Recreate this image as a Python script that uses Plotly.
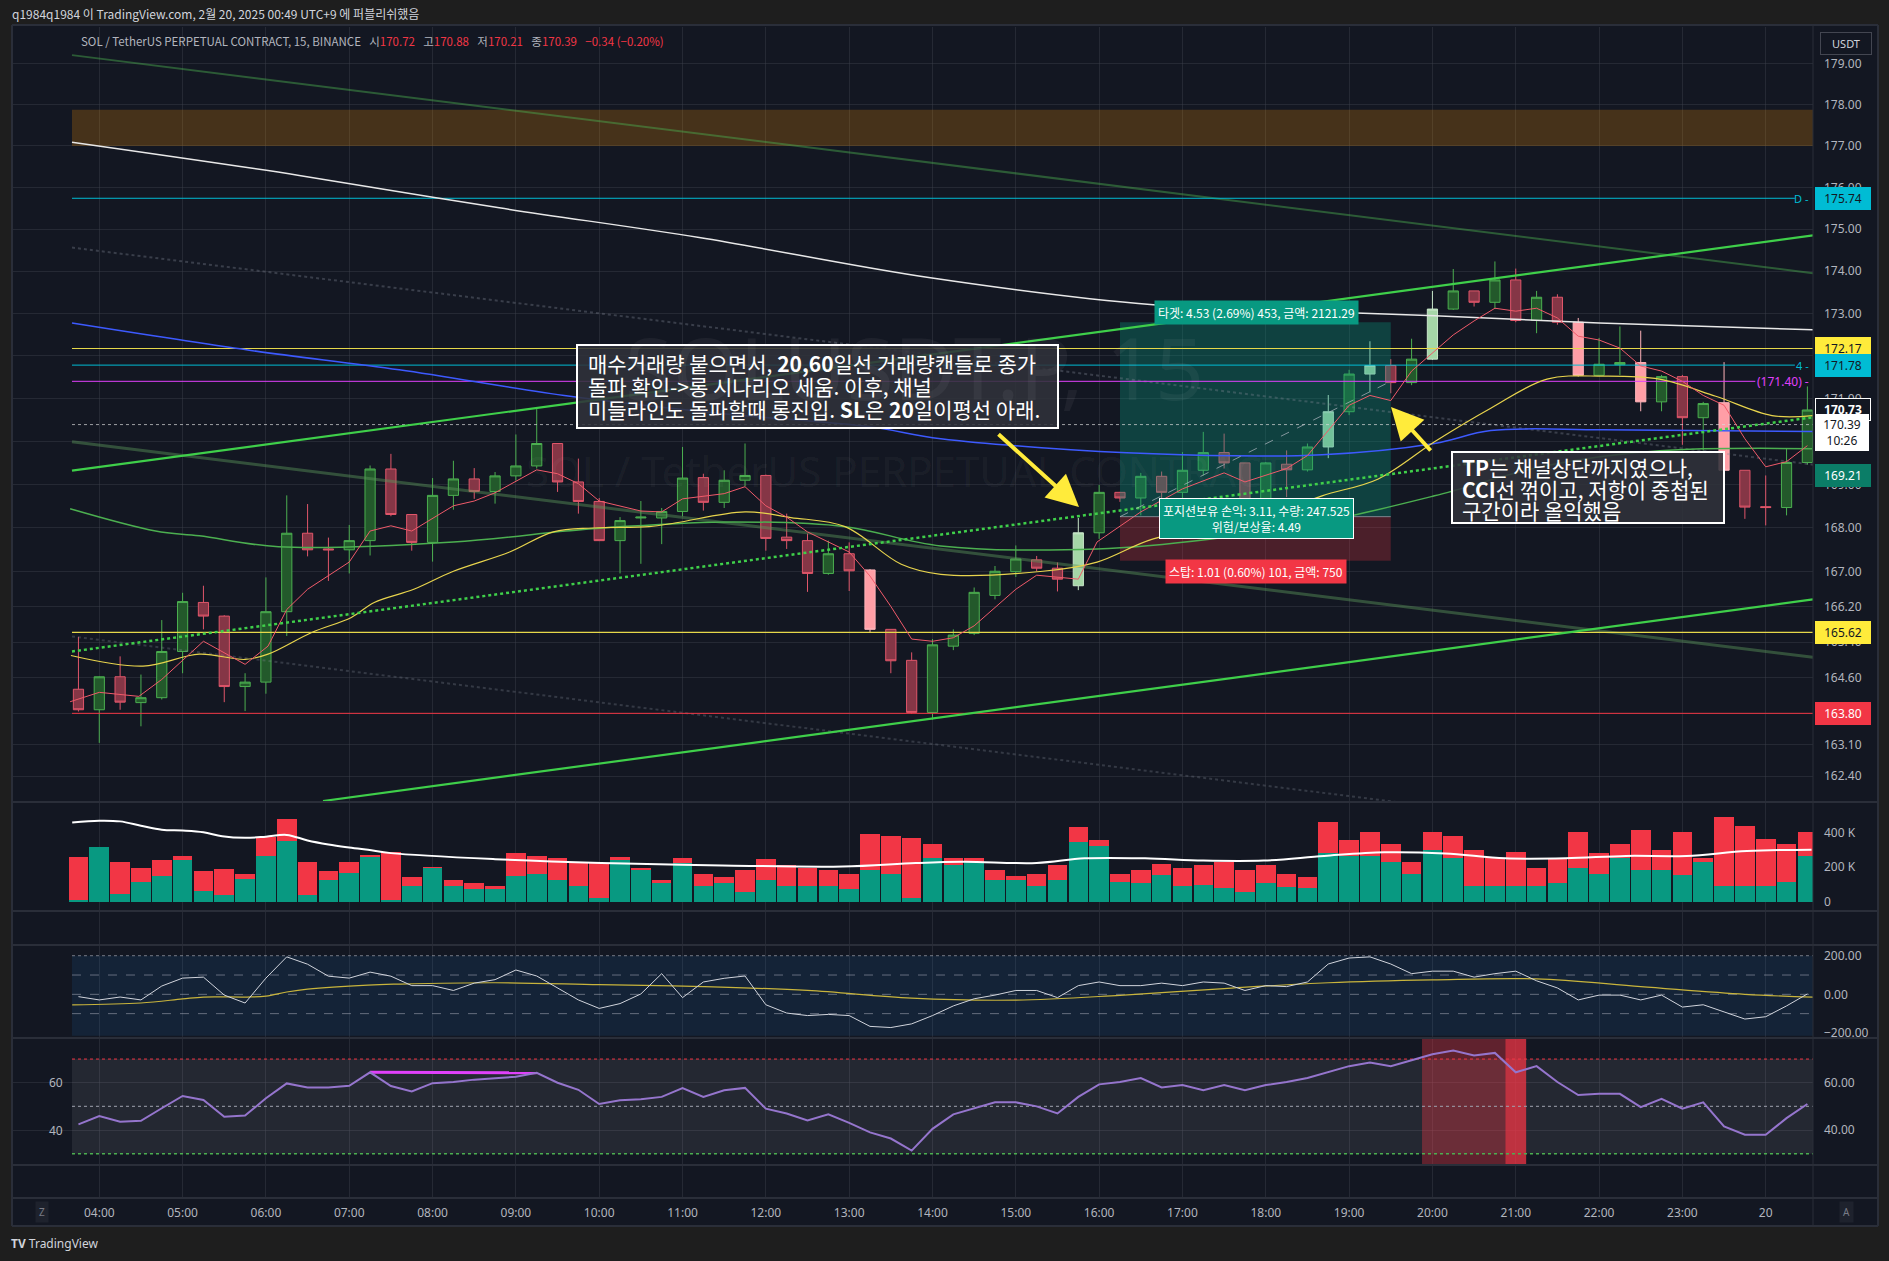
import math
import pandas as pd
import plotly.graph_objects as go

# ---------------- DATA ----------------
times = pd.date_range("2025-02-19 03:45", periods=84, freq="15min")
idx = list(range(len(times)))
tick_idx = [i for i, t in enumerate(times) if t.minute == 0]
tick_txt = ["20" if t.hour == 0 else t.strftime("%H:00") for t in times if t.minute == 0]

opens = [164.34,163.88,164.62,164.04,164.15,165.19,166.30,165.99,164.40,164.50,
         166.09,167.88,167.52,167.50,167.71,169.36,168.31,167.67,168.75,169.13,
         168.84,169.20,169.43,169.95,169.06,168.61,167.71,168.23,168.23,168.38,
         169.16,168.59,169.10,169.21,167.79,167.71,166.96,167.41,167.04,165.69,
         164.99,163.82,165.31,165.60,166.46,167.00,167.27,167.08,166.68,167.89,
         168.82,168.69,169.19,168.82,169.33,169.74,169.50,168.65,169.47,169.34,
         169.87,170.69,171.57,171.77,171.37,171.92,173.10,173.53,173.26,173.79,
         172.83,173.38,172.79,171.54,171.79,171.84,170.92,171.51,170.55,170.90,
         169.33,168.49,168.47,169.51]
highs = [165.52,164.63,165.08,164.67,165.90,166.52,166.68,166.01,164.70,166.87,
         168.75,168.55,167.78,168.07,169.44,169.71,168.31,169.15,169.55,169.38,
         169.29,170.16,170.75,169.95,169.60,168.69,168.25,168.62,168.46,169.87,
         169.25,169.33,169.95,169.23,168.33,167.87,167.71,167.67,167.06,165.69,
         165.17,165.47,165.69,166.64,167.13,167.60,167.36,167.21,168.23,168.99,
         168.83,169.27,169.30,169.75,170.22,170.18,169.50,169.52,169.79,169.95,
         171.08,171.67,172.34,171.92,172.40,173.53,174.05,173.53,174.23,174.06,
         173.53,173.45,172.89,172.42,172.69,172.59,171.55,171.55,170.92,171.85,
         169.33,169.21,169.83,171.28]
lows = [163.84,163.14,163.88,163.51,164.11,164.70,165.69,164.05,163.85,164.24,
        165.54,167.35,166.79,166.96,167.37,168.27,167.48,167.23,168.42,168.67,
        168.56,169.09,169.37,168.83,168.33,167.70,166.96,167.18,167.63,168.27,
        168.40,168.46,168.96,167.48,167.52,166.54,166.93,166.56,165.62,164.70,
        163.79,163.66,165.22,165.56,166.37,166.88,167.01,166.55,166.58,167.75,
        168.60,168.29,168.48,168.69,169.21,169.37,168.56,168.65,168.71,169.30,
        169.61,170.61,171.14,171.12,171.31,171.90,173.08,173.16,173.10,172.79,
        172.53,172.73,171.51,171.54,171.55,170.70,170.70,169.92,169.79,168.67,
        168.21,168.06,168.29,169.46]
closes = [163.88,164.62,164.05,164.15,165.19,166.32,165.99,164.40,164.50,166.09,
          167.88,167.50,167.50,167.71,169.36,168.31,167.67,168.75,169.13,168.84,
          169.20,169.43,169.95,169.06,168.61,167.71,168.17,168.25,168.38,169.15,
          168.59,169.10,169.21,167.76,167.71,166.96,167.41,167.02,165.69,164.98,
          163.82,165.34,165.56,166.53,167.01,167.29,167.08,166.83,167.89,168.82,
          168.69,169.19,168.82,169.33,169.74,169.50,168.65,169.50,169.34,169.87,
          170.69,171.57,171.77,171.37,171.92,173.10,173.53,173.26,173.79,172.83,
          173.38,172.79,171.54,171.80,171.84,170.92,171.51,170.55,170.88,169.33,
          168.48,168.47,169.51,170.73]
hl_up = [48, 60, 62, 65]   # highlighted (volume) bullish candles
hl_dn = [38, 72, 75, 79]   # highlighted (volume) bearish candles

vol_total = [255,318,227,192,238,261,175,187,158,371, 478,227,175,227,267,286,140,200,128,107,
             92,278,264,251,230,223,255,196,127,250, 161,140,182,244,209,196,182,161,388,381,
             367,333,250,250,182,147,161,209,430,354, 161,182,216,196,209,230,182,209,161,140,
             457,354,402,333,230,402,381,299,250,285, 196,250,402,278,333,416,299,402,250,491,
             436,360,333,402]
vol_buy = [10,318,44,114,147,238,63,37,131,261, 349,38,124,166,261,10,92,196,92,72,
           72,147,161,127,92,23,245,182,106,223, 92,106,58,127,92,92,92,72,182,161,
           23,250,209,230,127,127,92,127,347,319, 113,106,154,92,99,79,58,106,85,78,
           278,264,264,230,161,299,250,92,92,92, 92,106,196,161,250,182,182,154,230,92,
           92,92,113,264]
vma_x = [-0.3,1,2,3,4,5,6,6.9,8,9,10,11,12,12.9,13.9,15,20,25.1,30.9,36.7,40.2,42.5,46,48.3,
         51.2,54,56.9,59.8,62.7,65.6,68.5,71.4,74.3,77.2,80.1,83.2]
vma_y = [457,467,463,438,415,410,400,377,368,375,385,353,330,314,299,280,245,223,209,203,223,230,
         223,250,250,237,237,264,285,278,250,250,264,264,292,300]

# moving averages (candle index, price)
ma200_x = [-0.31,10.6,20.2,29.8,40.9,51.6,58.6,65.1,73.0,83.27]
ma200_y = [177.09,176.29,175.51,174.80,173.84,173.20,173.06,172.94,172.77,172.61]
ma100_x = [-0.31,8.2,15.4,23.6,30.8,38.0,41.4,51.6,59.7,65.1,67.8,73.2,83.27]
ma100_y = [172.77,172.13,171.67,171.05,170.65,170.34,170.06,169.71,169.69,169.95,170.25,170.27,170.23]
ma60_x = [-0.4,3.7,5.8,9.6,18.0,23.4,26.0,31.4,36.8,41.4,48.9,54.4,59.7,65.1,70.5,75.9,83.27]
ma60_y = [168.44,167.93,167.82,167.57,167.68,167.93,168.03,168.14,168.03,167.59,167.52,167.75,
          168.14,168.74,169.44,169.78,169.83]
ma20_x = [-0.36,3.1,5.8,8.0,9.1,11.2,13.1,14.2,16.1,18.0,20.7,22.8,24.7,27.4,28.7,32.0,34.2,36.8,
          39.5,41.4,46.3,48.9,51.6,57.1,59.7,62.4,65.1,67.8,70.5,73.2,75.9,78.6,81.3,83.27]
ma20_y = [165.10,164.86,165.13,165.01,165.13,165.62,165.96,166.30,166.60,167.01,167.45,167.91,168.00,
          168.03,168.12,168.37,168.24,168.03,167.17,166.94,167.01,167.22,167.75,168.28,168.74,169.13,
          169.99,170.77,171.45,171.52,171.45,171.05,170.60,170.60]
ma5_x = [-0.4,1,2.9,4,6,8,9.1,10,11,13,14,15,16,18,19,20,22,23,24,25,27,28,29,31,32,33,34,35,37,38,
         39,40,41,42,43,44,45,46,47,48,48.9,50,51,53,55,56,58,59,60,61,62,63,64,65,66,67,68,69,70,
         71,72,73,74,75,76,77,78,79,80,81,82,83]
ma5_y = [164.06,164.27,164.18,164.56,165.42,164.90,165.31,166.14,166.60,167.22,167.93,168.05,167.93,
         168.51,168.62,168.81,169.34,169.25,169.02,168.62,168.39,168.37,168.67,168.79,168.95,168.51,
         168.25,167.91,167.45,166.90,166.21,165.47,165.42,165.50,165.77,166.19,166.60,166.92,166.87,
         166.83,167.68,168.05,168.37,168.90,169.27,169.06,169.37,169.67,170.25,170.84,171.07,170.95,
         171.64,172.06,172.49,172.82,173.12,173.05,173.12,172.89,172.46,172.37,172.18,171.76,171.64,
         171.40,171.07,170.84,170.06,169.41,169.53,169.90]

# drawn lines (candle index, price)
rise_upper = ([-0.31, 83.27], [169.32, 174.85])
rise_lower = ([11.74, 83.27], [161.85, 166.37])
rise_mid = ([-0.31, 83.27], [165.19, 170.56])
desc_upper = ([-0.31, 83.27], [179.21, 173.95])
desc_lower = ([-0.31, 83.27], [169.99, 165.06])
desc_mid = ([-0.31, 83.27], [174.56, 169.46])
desc_ext = ([-0.31, 83.27], [165.53, 160.68])
zone = (177.00, 177.88)
levels = [175.74, 172.17, 171.78, 171.40, 170.39, 165.62, 163.80]
entry, target, stop = 168.26, 172.79, 167.25
pos_x = (50, 63)
pos_now = 171.40

cci = [-12,-29,-14,-29,43,84,89,-4,-45,84, 194,156,94,84,115,94,45,45,20,58,
       76,126,95,33,-29,-73,-48,2,107,-17, 64,83,95,-54,-97,-110,-104,-110,-166,-172,
       -153,-110,-60,-23,-4,20,20,-17,45,64, 45,45,58,45,64,58,20,45,40,64,
       157,188,194,157,107,120,120,89,107,120, 70,33,-29,-4,-4,-29,-4,-66,-54,-91,
       -128,-116,-60,2]
cci_ma_x = [-0.3,3,5,6,8.1,9,10,11,13.9,15.4,20,25,30,35,40,45,50,55,60,65,70,75,80,83.27]
cci_ma_y = [-55,-45,-24,-14,-14,-9,12,27,48,53,60,50,40,20,-20,-30,-5,30,60,75,80,40,0,-15]

rsi = [42.4,45.9,43.5,43.9,49.2,54.4,52.7,45.6,46.1,53.4, 59.7,58.0,58.0,58.7,64.4,58.6,56.3,59.8,60.3,61.3,
       61.9,62.5,64.2,60.0,57.0,51.0,52.6,53.0,54.0,57.7, 54.0,56.8,57.8,49.0,47.0,44.0,46.6,43.0,39.0,36.4,
       31.3,40.5,46.6,49.0,51.7,51.7,50.0,47.0,54.0,59.3, 60.3,62.0,58.0,59.0,56.8,59.0,56.8,59.0,60.3,62.0,
       64.4,67.0,68.5,67.0,69.5,72.0,73.6,71.5,72.6,64.4, 67.0,60.3,54.8,55.3,55.3,49.7,53.2,49.0,51.7,41.5,
       38.0,38.0,45.0,51.0]
rsi_div = ([14, 22], [64.4, 64.2])
rsi_hot = [(64.5, 68.5), (68.5, 69.5)]

price_ticks = [179.0,178.0,177.0,176.0,175.0,174.0,173.0,172.0,171.0,170.0,169.0,168.0,167.0,
               166.2,165.4,164.6,163.8,163.1,162.4]

note1_lines = ['매수거래량 붙으면서, <b>20,60</b>일선 거래량캔들로 종가',
               '돌파 확인->롱 시나리오 세움. 이후, 채널',
               '미들라인도 돌파할때 롱진입. <b>SL</b>은 <b>20</b>일이평선 아래.']
note2_lines = ['<b>TP</b>는 채널상단까지였으나,',
               '<b>CCI</b>선 꺾이고, 저항이 중첩된',
               '구간이라 올익했음']

# ---------------- LAYOUT GEOMETRY ----------------
W, H = 1889, 1261
ML, MR, MT, MB = 12, 76, 27, 63
PW, PH = W - ML - MR, H - MT - MB
def xp(px): return (px - ML) / PW
def yp(py): return (H - MB - py) / PH

BG = '#131722'
GRID = 'rgba(60,64,76,0.45)'
TXT = '#b2b5be'
XR = [-3.19, 83.27]
L0, L1 = -0.31, 83.27

fig = go.Figure()

def line(x, y, color, width=1.0, dash=None, yaxis='y', shape='linear'):
    fig.add_trace(go.Scatter(x=x, y=y, mode='lines', yaxis=yaxis, hoverinfo='skip',
                             line=dict(color=color, width=width, dash=dash, shape=shape)))

def rect(x0, x1, y0, y1, fill, yaxis='y'):
    fig.add_trace(go.Scatter(x=[x0, x1, x1, x0, x0], y=[y0, y0, y1, y1, y0], mode='lines',
                             fill='toself', fillcolor=fill, line=dict(width=0), yaxis=yaxis,
                             hoverinfo='skip'))

# ---- main pane: zones ----
rect(L0, L1, zone[0], zone[1], 'rgba(255,152,0,0.22)')
rect(pos_x[0], pos_x[1], entry, target, 'rgba(8,153,129,0.33)')
rect(pos_x[0], pos_x[1], stop, entry, 'rgba(242,54,69,0.25)')

# ---- drawn lines ----
line(*desc_upper, 'rgba(76,175,80,0.45)', 2)
line(*desc_lower, 'rgba(90,150,90,0.45)', 3)
line(*desc_mid, 'rgba(130,135,150,0.35)', 2, 'dot')
line(*desc_ext, 'rgba(130,135,150,0.30)', 2, 'dot')

lvl_style = [('#00bcd4', 1, None, 82.4), ('#e6d84a', 1, None, L1), ('#00bcd4', 1, None, 82.4),
             ('#e040fb', 1, None, 80.5), ('rgba(220,220,220,0.7)', 1, 'dot', L1),
             ('#e6d84a', 1.3, None, L1), ('#f23645', 1, None, L1)]
for v, (c, w, d, xe) in zip(levels, lvl_style):
    line([L0, xe], [v, v], c, w, d)

# moving averages
line(ma200_x, ma200_y, '#e8e8e8', 1.5, shape='spline')
line(ma100_x, ma100_y, '#3d5afe', 1.5, shape='spline')
line(ma60_x, ma60_y, '#4caf50', 1.5, shape='spline')
line(ma20_x, ma20_y, '#e8d44d', 1.2, shape='spline')
line(ma5_x, ma5_y, '#f05a6a', 1.0)

line(*rise_upper, '#3fcf4a', 2.2)
line(*rise_lower, '#3fcf4a', 2.2)
line(*rise_mid, '#3fcf4a', 2.5, 'dot')

# position tool lines
line(list(pos_x), [entry, entry], 'rgba(150,155,165,0.8)', 1)
line(list(pos_x), [entry, pos_now], 'rgba(180,185,195,0.7)', 1, 'dash')

# ---- candles ----
normal = [i for i in idx if i not in hl_up and i not in hl_dn]
def candles(sel, up_fill, up_line, dn_fill, dn_line):
    fig.add_trace(go.Candlestick(
        x=[idx[i] for i in sel], open=[opens[i] for i in sel], high=[highs[i] for i in sel],
        low=[lows[i] for i in sel], close=[closes[i] for i in sel], yaxis='y',
        increasing=dict(fillcolor=up_fill, line=dict(color=up_line, width=1)),
        decreasing=dict(fillcolor=dn_fill, line=dict(color=dn_line, width=1)),
        whiskerwidth=0, hoverinfo='skip'))
candles(normal, '#23592b', '#4caf50', '#853646', '#e0566a')
candles(hl_up, '#a5d6a7', '#c8e6c9', '#a5d6a7', '#c8e6c9')
candles(hl_dn, '#ff9ea6', '#ffb3b9', '#ff9ea6', '#ffb3b9')

# ---- volume ----
vol_sell = [t - b for t, b in zip(vol_total, vol_buy)]
fig.add_trace(go.Bar(x=idx, y=[v * 1000 for v in vol_buy], marker=dict(color='#089981', line=dict(width=0)),
                     yaxis='y2', hoverinfo='skip'))
fig.add_trace(go.Bar(x=idx, y=[v * 1000 for v in vol_sell], marker=dict(color='#f23645', line=dict(width=0)),
                     yaxis='y2', hoverinfo='skip'))
line(vma_x, [v * 1000 for v in vma_y], '#ffffff', 2, yaxis='y2', shape='spline')

# empty panes (keep grid)
for ya in ['y3', 'y6']:
    fig.add_trace(go.Scatter(x=[0], y=[0], mode='markers', marker=dict(opacity=0), yaxis=ya, hoverinfo='skip'))

# ---- CCI ----
rect(L0, L1, -215, 200, 'rgba(33,150,243,0.10)', 'y4')
line([L0, L1], [200, 200], 'rgba(200,200,210,0.55)', 1, 'dot', 'y4')
for v in [100, 0, -100]:
    line([L0, L1], [v, v], 'rgba(200,200,210,0.45)', 1, 'dash', 'y4')
line(cci_ma_x, cci_ma_y, '#c8b43c', 1.2, yaxis='y4', shape='spline')
line(idx, cci, '#d1d4dc', 1.0, yaxis='y4')

# ---- RSI ----
rect(L0, L1, 30, 70, 'rgba(255,255,255,0.075)', 'y5')
rect(rsi_hot[0][0], rsi_hot[0][1], 25.62, 78.48, 'rgba(242,54,69,0.35)', 'y5')
rect(rsi_hot[1][0], rsi_hot[1][1], 25.62, 78.48, 'rgba(242,54,69,0.75)', 'y5')
line([L0, L1], [70, 70], '#f23645', 1, 'dot', 'y5')
line([L0, L1], [50, 50], 'rgba(160,163,175,0.8)', 1.2, 'dot', 'y5')
line([L0, L1], [30, 30], '#4caf50', 1.5, 'dot', 'y5')
line(*rsi_div, '#e040fb', 3, yaxis='y5')
line(idx, rsi, '#9575cd', 2, yaxis='y5')

# ---------------- AXES ----------------
ax_common = dict(side='right', anchor='x', showline=False, zeroline=False, ticks='',
                 tickfont=dict(size=12, color=TXT, family='Noto Sans'), ticklabelstandoff=10,
                 fixedrange=True)
fig.update_layout(
    width=W, height=H, margin=dict(l=ML, r=MR, t=MT, b=MB),
    paper_bgcolor='#1e1e1e', plot_bgcolor=BG, showlegend=False, hovermode=False,
    barmode='stack', bargap=0.06,
    font=dict(family='Noto Sans, Noto Sans CJK KR', color=TXT, size=12),
    xaxis=dict(range=XR, anchor='free', position=0, tickvals=tick_idx, ticktext=tick_txt,
               showgrid=True, gridcolor=GRID, zeroline=False, showline=False, ticks='',
               ticklabelstandoff=6,
               tickfont=dict(size=12, color=TXT, family='Noto Sans'), fixedrange=True,
               rangeslider=dict(visible=False)),
    yaxis=dict(domain=[yp(801), yp(27)], type='log',
               range=[math.log10(161.85), math.log10(179.9)],
               tickvals=price_ticks, ticktext=[f"{v:.2f}" for v in price_ticks],
               showgrid=True, gridcolor=GRID, **ax_common),
    yaxis2=dict(domain=[yp(910), yp(803)], range=[-47800, 568900],
                tickvals=[0, 200000, 400000], ticktext=['0', '200 K', '400 K'], showgrid=False,
                **ax_common),
    yaxis3=dict(domain=[yp(944), yp(912)], range=[0, 1], showticklabels=False, showgrid=False, **ax_common),
    yaxis4=dict(domain=[yp(1037), yp(946)], range=[-221, 250.3], tickvals=[-200, 0, 200],
                ticktext=['\u2212200.00', '0.00', '200.00'], showgrid=False, **ax_common),
    yaxis5=dict(domain=[yp(1164), yp(1039)], range=[25.62, 78.48], tickvals=[40, 60],
                ticktext=['40.00', '60.00'], showgrid=True, gridcolor=GRID, **ax_common),
    yaxis6=dict(domain=[0, yp(1166)], range=[0, 1], showticklabels=False, showgrid=False, **ax_common),
)

# ---------------- SHAPES (frame, note boxes) ----------------
shapes = [dict(type='rect', xref='paper', yref='paper', x0=xp(12), x1=xp(1878), y0=yp(1226), y1=yp(25),
               fillcolor=BG, line=dict(width=0), layer='below')]
for py in [25, 802, 911, 945, 1038, 1165, 1198, 1226]:
    shapes.append(dict(type='line', xref='paper', yref='paper', x0=xp(12), x1=xp(1878), y0=yp(py), y1=yp(py),
                       line=dict(color='#2a2e39', width=2)))
for px in [12, 1813, 1878]:
    shapes.append(dict(type='line', xref='paper', yref='paper', x0=xp(px), x1=xp(px), y0=yp(1226), y1=yp(25),
                       line=dict(color='#2a2e39', width=2 if px != 1813 else 1)))
for (bx0, bx1, by0, by1) in [(577, 1058, 345, 428), (1452, 1724, 452, 523)]:
    shapes.append(dict(type='rect', xref='paper', yref='paper', x0=xp(bx0), x1=xp(bx1), y0=yp(by1), y1=yp(by0),
                       fillcolor='rgba(48,50,58,0.88)', line=dict(color='#ffffff', width=2), layer='above'))
fig.update_layout(shapes=shapes)

# ---------------- ANNOTATIONS ----------------
KR = 'Noto Sans CJK KR'
ann = []
def A(**kw):
    kw.setdefault('showarrow', False)
    kw.setdefault('xanchor', 'center')
    kw.setdefault('yanchor', 'middle')
    ann.append(kw)

A(xref='paper', yref='paper', x=xp(10), y=yp(13), xanchor='left',
  text='q1984q1984 이 TradingView.com, 2월 20, 2025 00:49 UTC+9 에 퍼블리쉬했음',
  font=dict(family=KR, size=12, color='#d1d4dc'))
R = '#f23645'
sym = ('SOL / TetherUS PERPETUAL CONTRACT, 15, BINANCE\u2002 시<span style="color:%s">170.72</span>'
       '\u2002 고<span style="color:%s">170.88</span>\u2002 저<span style="color:%s">170.21</span>'
       '\u2002 종<span style="color:%s">170.39</span>\u2002 <span style="color:%s">\u22120.34 (\u22120.20%%)</span>'
       % (R, R, R, R, R))
A(xref='paper', yref='paper', x=xp(79), y=yp(41), xanchor='left', text=sym,
  font=dict(family=KR, size=11.5, color=TXT))

# watermark
A(xref='paper', yref='paper', x=xp(914), y=yp(366), text='SOLUSDT.P, 15',
  font=dict(family='Noto Sans', size=86, color='rgba(255,255,255,0.05)'))
A(xref='paper', yref='paper', x=xp(905), y=yp(470), text='SOL / TetherUS PERPETUAL CONTRACT',
  font=dict(family='Noto Sans', size=42, color='rgba(255,255,255,0.05)'))

# USDT box
A(xref='paper', yref='paper', x=xp(1846), y=yp(44), text='USDT', bgcolor=BG, bordercolor='#434651',
  borderwidth=1, borderpad=3, width=44, font=dict(size=11, color='#d1d4dc'))

# price labels
def plabel(p, text, bg, fg, border=None, bold=False):
    A(xref='paper', x=1.0, xshift=2, xanchor='left', yref='y', y=math.log10(p),
      text=('<b>%s</b>' % text) if bold else text, bgcolor=bg, bordercolor=border or bg, borderwidth=1,
      borderpad=2, width=50, font=dict(size=12, color=fg, family='Noto Sans'))
plabel(levels[0], '175.74', '#00bcd4', '#131722')
plabel(levels[1], '172.17', '#ffeb3b', '#131722')
plabel(levels[2], '171.78', '#00bcd4', '#131722')
plabel(closes[-1], '170.73', BG, '#ffffff', border='#ffffff', bold=True)
plabel(169.21, '169.21', '#0b7d67', '#ffffff')
plabel(levels[5], '165.62', '#ffeb3b', '#131722')
plabel(levels[6], '163.80', '#f23645', '#ffffff')
A(xref='paper', x=1.0, xshift=2, xanchor='left', yref='paper', y=yp(433),
  text='170.39<br>10:26', bgcolor='#ffffff', bordercolor='#ffffff', borderwidth=1, borderpad=1, width=50,
  font=dict(size=12, color='#131722', family='Noto Sans'))
A(xref='paper', x=1.0, xshift=-2, xanchor='right', yref='y', y=math.log10(levels[0]),
  text='D -', font=dict(size=11, color='#00bcd4'))
A(xref='paper', x=1.0, xshift=-2, xanchor='right', yref='y', y=math.log10(levels[2]),
  text='4 -', font=dict(size=11, color='#00bcd4'))
A(xref='paper', x=1.0, xshift=-2, xanchor='right', yref='y', y=math.log10(levels[3]),
  text='(171.40) -', font=dict(size=12, color='#e040fb'))

# RSI left labels
for v in [60, 40]:
    A(xref='paper', x=xp(56), yref='y5', y=v, text=str(v), font=dict(size=12, color=TXT))

# note box texts (one annotation per line inside the drawn boxes)
for t, py in zip(note1_lines, [363, 386, 409]):
    A(xref='paper', yref='paper', x=xp(586), y=yp(py), xanchor='left', text=t,
      font=dict(family=KR, size=21, color='#ffffff'))
for t, py in zip(note2_lines, [467, 489, 510]):
    A(xref='paper', yref='paper', x=xp(1460), y=yp(py), xanchor='left', text=t,
      font=dict(family=KR, size=21, color='#ffffff'))

# position labels
A(xref='paper', yref='paper', x=xp(1256), y=yp(313), text='타겟: 4.53 (2.69%) 453, 금액: 2121.29',
  bgcolor='#089981', borderpad=3, font=dict(family=KR, size=12, color='#ffffff'))
A(xref='paper', yref='paper', x=xp(1256), y=yp(518), text='포지션보유 손익: 3.11, 수량: 247.525<br>위험/보상율: 4.49',
  bgcolor='#089981', bordercolor='#ffffff', borderwidth=1, borderpad=3,
  font=dict(family=KR, size=12, color='#ffffff'))
A(xref='paper', yref='paper', x=xp(1256), y=yp(571), text='스탑: 1.01 (0.60%) 101, 금액: 750',
  bgcolor='#f23645', borderpad=3, font=dict(family=KR, size=12, color='#ffffff'))

# arrows
A(xref='paper', yref='paper', x=xp(1079), y=yp(507), ax=-82, ay=-74, text='', showarrow=True,
  arrowcolor='#ffeb3b', arrowwidth=4, arrowhead=2, arrowsize=1.6, standoff=0)
A(xref='paper', yref='paper', x=xp(1391), y=yp(407), ax=41, ay=45, text='', showarrow=True,
  arrowcolor='#ffeb3b', arrowwidth=4, arrowhead=2, arrowsize=1.6, standoff=0)

# Z / A buttons
A(xref='paper', yref='paper', x=xp(42), y=yp(1212), text='Z', bgcolor='#1e222d', borderpad=3,
  font=dict(size=10, color='#787b86'))
A(xref='paper', yref='paper', x=xp(1846), y=yp(1212), text='A', bgcolor='#1e222d', borderpad=3,
  font=dict(size=10, color='#787b86'))

# footer
A(xref='paper', yref='paper', x=xp(9), y=yp(1243), xanchor='left',
  text='<b>TV</b> TradingView', font=dict(size=12, color='#d1d4dc'))

fig.update_layout(annotations=ann)
fig.write_html("out.html")
